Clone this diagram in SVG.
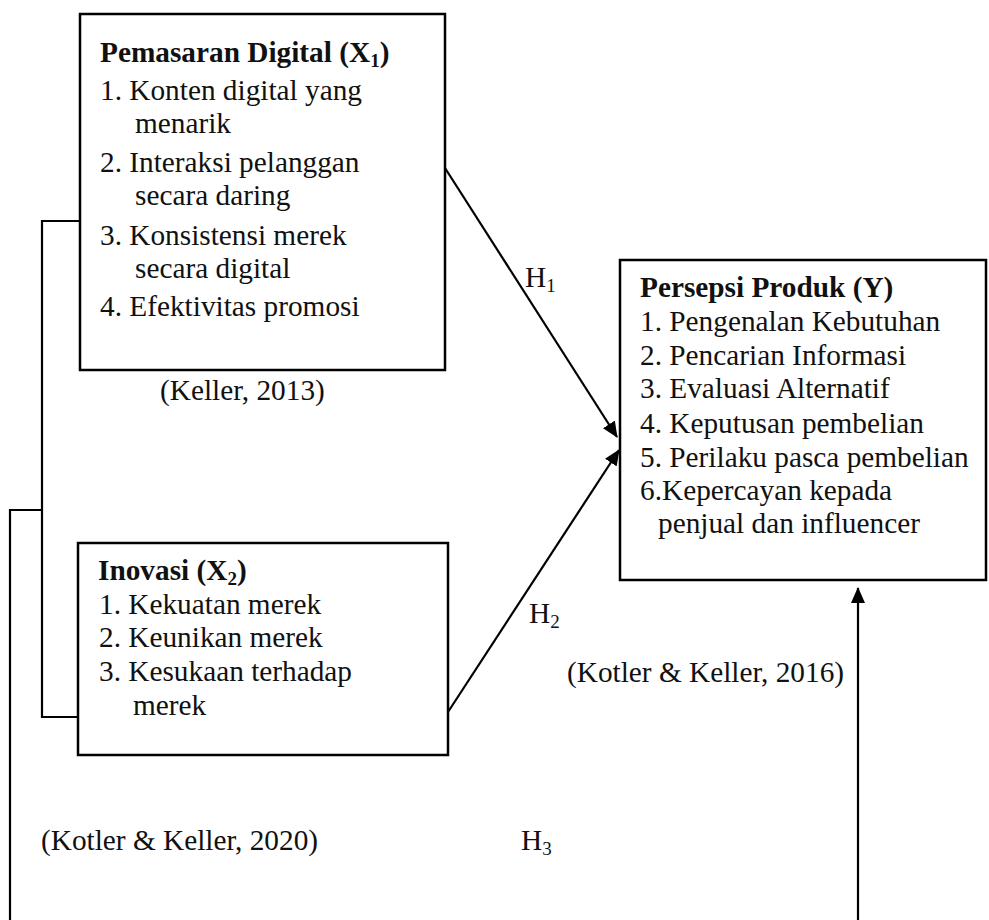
<svg xmlns="http://www.w3.org/2000/svg" width="989" height="920" viewBox="0 0 989 920">
<style>
  .box { fill: #ffffff; stroke: #000000; stroke-width: 2.5; }
  .ln { fill: none; stroke: #000000; stroke-width: 2.2; }
  .t { font-family: "Liberation Serif", "Times New Roman", serif; font-size: 29.3px; fill: #111111; }
  .b { font-weight: bold; }
  .sub { font-size: 19px; }
</style>
<defs>
  <marker id="arrow" markerUnits="userSpaceOnUse" markerWidth="16" markerHeight="14" refX="15" refY="7" orient="auto">
    <path d="M0,0 L16,7 L0,14 z" fill="#000000"/>
  </marker>
</defs>

<g id="connectors">
  <polyline class="ln" points="80,221 42,221 42,717 78,717"/>
  <polyline class="ln" points="42,510 10,510 10,925"/>
  <line class="ln" x1="445" y1="168" x2="617" y2="437" marker-end="url(#arrow)"/>
  <line class="ln" x1="448" y1="712" x2="619" y2="450" marker-end="url(#arrow)"/>
  <line class="ln" x1="858" y1="925" x2="858" y2="588" marker-end="url(#arrow)"/>
</g>

<g id="node-x1">
  <rect class="box" x="80" y="14" width="365" height="356"/>
  <text class="t b" x="100" y="62">Pemasaran Digital (X<tspan class="sub" dy="5">1</tspan><tspan dy="-5">)</tspan></text>
  <text class="t" x="100" y="100">1. Konten digital yang</text>
  <text class="t" x="135" y="133">menarik</text>
  <text class="t" x="100" y="172">2. Interaksi pelanggan</text>
  <text class="t" x="135" y="205">secara daring</text>
  <text class="t" x="100" y="245">3. Konsistensi merek</text>
  <text class="t" x="135" y="278">secara digital</text>
  <text class="t" x="100" y="316">4. Efektivitas promosi</text>
</g>

<g id="node-x2">
  <rect class="box" x="78" y="543" width="370" height="212"/>
  <text class="t b" x="98" y="580">Inovasi (X<tspan class="sub" dy="5">2</tspan><tspan dy="-5">)</tspan></text>
  <text class="t" x="99" y="614">1. Kekuatan merek</text>
  <text class="t" x="99" y="647">2. Keunikan merek</text>
  <text class="t" x="99" y="681">3. Kesukaan terhadap</text>
  <text class="t" x="133" y="715">merek</text>
</g>

<g id="node-y">
  <rect class="box" x="620" y="260" width="366" height="320"/>
  <text class="t b" x="640" y="297">Persepsi Produk (Y)</text>
  <text class="t" x="640" y="331">1. Pengenalan Kebutuhan</text>
  <text class="t" x="640" y="365">2. Pencarian Informasi</text>
  <text class="t" x="640" y="398">3. Evaluasi Alternatif</text>
  <text class="t" x="640" y="433">4. Keputusan pembelian</text>
  <text class="t" x="640" y="467">5. Perilaku pasca pembelian</text>
  <text class="t" x="640" y="500">6.Kepercayan kepada</text>
  <text class="t" x="658" y="533">penjual dan influencer</text>
</g>

<g id="labels">
  <text class="t" x="160" y="400">(Keller, 2013)</text>
  <text class="t" x="567" y="682">(Kotler &amp; Keller, 2016)</text>
  <text class="t" x="41" y="850">(Kotler &amp; Keller, 2020)</text>
  <text class="t" x="525" y="287">H<tspan class="sub" dy="5">1</tspan></text>
  <text class="t" x="529" y="623">H<tspan class="sub" dy="5">2</tspan></text>
  <text class="t" x="521" y="850">H<tspan class="sub" dy="5">3</tspan></text>
</g>
</svg>
